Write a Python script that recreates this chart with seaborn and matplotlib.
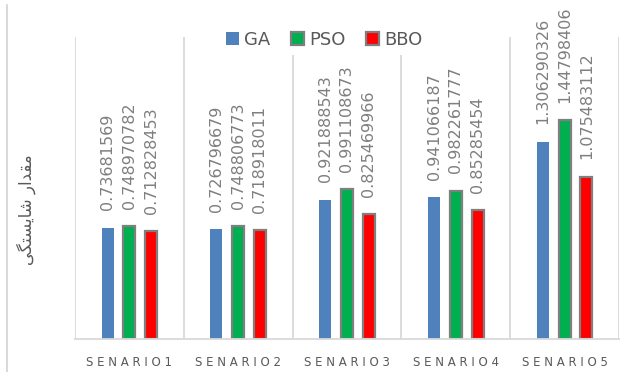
import matplotlib
matplotlib.use("Agg")
import matplotlib.pyplot as plt
from matplotlib.patches import Patch
from matplotlib.lines import Line2D
import pandas as pd
import seaborn as sns

# ---- data ----
scenarios = ["SENARIO1", "SENARIO2", "SENARIO3", "SENARIO4", "SENARIO5"]
algorithms = ["GA", "PSO", "BBO"]
ga_labels = ["0.73681569", "0.726796679", "0.921888543", "0.941066187", "1.306290326"]
pso_labels = ["0.748970782", "0.748806773", "0.991108673", "0.982261777", "1.44798406"]
bbo_labels = ["0.712828453", "0.718918011", "0.825469966", "0.85285454", "1.075483112"]
y_label = "مقدار شایستگی"

colors = {"GA": "#4f81bd", "PSO": "#00b050", "BBO": "#ff0000"}
edge_gray = "#7f7f7f"
grid_gray = "#d9d9d9"
text_gray = "#595959"

label_sets = {"GA": ga_labels, "PSO": pso_labels, "BBO": bbo_labels}
rows = []
for alg in algorithms:
    for sc, lab in zip(scenarios, label_sets[alg]):
        rows.append({"scenario": sc, "algorithm": alg, "value": float(lab), "label": lab})
df = pd.DataFrame(rows)


# minimal Persian shaping (contextual forms + visual order) for matplotlib
FORMS = {
    "م": ("\uFEE1", "\uFEE2", "\uFEE3", "\uFEE4"),
    "ق": ("\uFED5", "\uFED6", "\uFED7", "\uFED8"),
    "د": ("\uFEA9", "\uFEAA", None, None),
    "ا": ("\uFE8D", "\uFE8E", None, None),
    "ر": ("\uFEAD", "\uFEAE", None, None),
    "ش": ("\uFEB5", "\uFEB6", "\uFEB7", "\uFEB8"),
    "ی": ("\uFBFC", "\uFBFD", "\uFBFE", "\uFBFF"),
    "س": ("\uFEB1", "\uFEB2", "\uFEB3", "\uFEB4"),
    "ت": ("\uFE95", "\uFE96", "\uFE97", "\uFE98"),
    "گ": ("\uFB92", "\uFB93", "\uFB94", "\uFB95"),
}


def shape(text):
    out = []
    for i, ch in enumerate(text):
        if ch not in FORMS:
            out.append(ch)
            continue
        f = FORMS[ch]
        prev = text[i - 1] if i > 0 else None
        nxt = text[i + 1] if i + 1 < len(text) else None
        jp = prev in FORMS and FORMS[prev][2] is not None
        jn = f[2] is not None and nxt in FORMS
        if jp and jn:
            out.append(f[3])
        elif jp:
            out.append(f[1])
        elif jn:
            out.append(f[2])
        else:
            out.append(f[0])
    return "".join(reversed(out))


sns.set_theme(style="white")
plt.rcParams["font.family"] = ["DejaVu Sans"]

fig = plt.figure(figsize=(6.2, 3.72), dpi=100)
ax = fig.add_axes([75 / 620, 1 - 339 / 372, 544 / 620, 302 / 372])

sns.barplot(data=df, x="scenario", y="value", hue="algorithm",
            palette=colors, width=0.6, gap=0.45, ax=ax, legend=False,
            saturation=1)

for alg, cont in zip(algorithms, ax.containers):
    for p in cont.patches:
        if alg == "GA":
            p.set_linewidth(0)
        else:
            p.set_edgecolor(edge_gray)
            p.set_linewidth(1.6)
    labs = label_sets[alg]
    for p, lab in zip(cont.patches, labs):
        cx = p.get_x() + p.get_width() / 2
        ax.annotate(lab, (cx, p.get_height()), xytext=(0, 12.5),
                    textcoords="offset points", rotation=90,
                    ha="center", va="bottom", fontsize=11.5, color=edge_gray)

ax.set_ylim(0, 2.0)
ax.set_xlim(-0.5, len(scenarios) - 0.5)
ax.set_yticks([])
ax.set_xticks(range(len(scenarios)))
ax.set_xticklabels([" ".join(s) for s in scenarios], fontsize=8.5, color=text_gray)
ax.tick_params(axis="x", length=0, pad=12)
ax.set_xlabel("")
ax.set_ylabel("")

# category separators
for b in [i - 0.5 for i in range(len(scenarios) + 1)]:
    ax.axvline(b, color=grid_gray, lw=1.3, zorder=0)
for s in ["top", "right", "left"]:
    ax.spines[s].set_visible(False)
ax.spines["bottom"].set_color(grid_gray)
ax.spines["bottom"].set_linewidth(1.3)

# left edge of chart area
fig.add_artist(Line2D([7 / 620, 7 / 620], [0, 1 - 5 / 372], color=grid_gray,
                      lw=1.5, transform=fig.transFigure))

fig.text(26 / 620, 1 - 210 / 372, shape(y_label), rotation=90,
         ha="center", va="center", fontsize=12, color=text_gray)

handles = [Patch(facecolor=colors["GA"], edgecolor="none", label="GA"),
           Patch(facecolor=colors["PSO"], edgecolor=edge_gray, lw=1.6, label="PSO"),
           Patch(facecolor=colors["BBO"], edgecolor=edge_gray, lw=1.6, label="BBO")]
leg = fig.legend(handles=handles, loc="center", bbox_to_anchor=(0.523, 0.892),
                 ncol=3, frameon=True, fontsize=13, handlelength=0.75,
                 handleheight=0.75, handletextpad=0.3, columnspacing=1.1,
                 borderpad=0.3, labelcolor=text_gray)
leg.get_frame().set_facecolor("white")
leg.get_frame().set_edgecolor("none")
leg.get_frame().set_alpha(1)

fig.savefig("out.png", dpi=100, facecolor="white")
